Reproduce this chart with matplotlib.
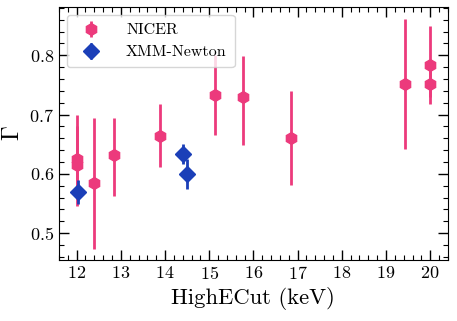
import matplotlib
matplotlib.use('Agg')
import matplotlib.pyplot as plt

# NICER values
nicer_x = [12.0, 12.0, 12.39, 12.84, 13.89, 15.12, 15.77, 16.86, 19.44, 20.0, 20.0]
nicer_y = [0.625, 0.615, 0.584, 0.631, 0.664, 0.733, 0.730, 0.660, 0.752, 0.784, 0.751]
nicer_lo = [0.560, 0.545, 0.474, 0.563, 0.611, 0.666, 0.649, 0.581, 0.642, 0.730, 0.718]
nicer_hi = [0.700, 0.680, 0.694, 0.695, 0.717, 0.800, 0.799, 0.740, 0.862, 0.850, 0.790]

# XMM-Newton values
xmm_x = [12.03, 14.40, 14.50]
xmm_y = [0.569, 0.633, 0.600]
xmm_lo = [0.549, 0.617, 0.575]
xmm_hi = [0.590, 0.651, 0.625]

plt.rcParams['font.family'] = 'serif'
plt.rcParams['font.serif'] = ['cmr10']
plt.rcParams['mathtext.fontset'] = 'cm'
plt.rcParams['axes.formatter.use_mathtext'] = True

pink = '#EC3A7C'
blue = '#1B3FB8'

fig = plt.figure(figsize=(4.57, 3.21), dpi=100)
ax = fig.add_axes([0.129, 0.19, 0.851, 0.788])

nicer_err = [[y - l for y, l in zip(nicer_y, nicer_lo)],
             [h - y for y, h in zip(nicer_y, nicer_hi)]]
xmm_err = [[y - l for y, l in zip(xmm_y, xmm_lo)],
           [h - y for y, h in zip(xmm_y, xmm_hi)]]

ax.errorbar(nicer_x, nicer_y, yerr=nicer_err, fmt='h', color=pink,
            ms=8.5, elinewidth=2, capsize=0, label='NICER')
ax.errorbar(xmm_x, xmm_y, yerr=xmm_err, fmt='D', color=blue,
            ms=8, elinewidth=2, capsize=0, label='XMM-Newton')

ax.set_xlabel('HighECut (keV)', fontsize=16.3)
ax.set_ylabel(r'$\Gamma$', fontsize=17)
ax.set_xticks([12, 13, 14, 15, 16, 17, 18, 19, 20])
ax.set_yticks([0.5, 0.6, 0.7, 0.8])
ax.minorticks_on()
ax.xaxis.set_minor_locator(matplotlib.ticker.MultipleLocator(0.2))
ax.yaxis.set_minor_locator(matplotlib.ticker.MultipleLocator(0.02))
ax.tick_params(which='both', direction='in', top=True, right=True, labelsize=13)
ax.tick_params(which='major', length=7, width=1)
ax.tick_params(which='minor', length=3.5, width=0.8)

ax.legend(loc='upper left', fontsize=11.5, frameon=True, borderpad=0.5,
          handletextpad=1.2)

plt.savefig('out.png', dpi=100)
